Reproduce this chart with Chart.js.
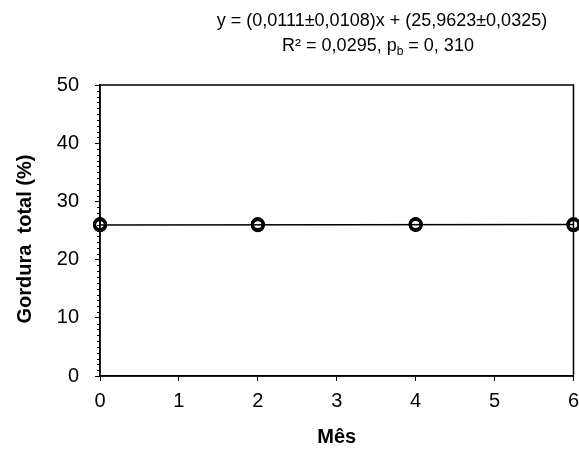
<!DOCTYPE html>
<html>
<head>
<meta charset="utf-8">
<script src="https://cdn.jsdelivr.net/npm/chart.js@4"></script>
<style>
  html, body { margin: 0; padding: 0; background: #fff; overflow: hidden; }
  #wrap { width: 582px; height: 450px; }
</style>
</head>
<body>
<div id="wrap"><canvas id="chart"></canvas></div>
<script>
// Sample data
const months = [0, 0, 0, 2, 2, 2, 4, 4, 4, 6, 6, 6];
const fat = [25.9, 26.0, 26.1, 25.9, 26.0, 26.1, 25.95, 26.05, 26.1, 25.9, 26.0, 26.1];
const fitX = [0, 6];
const fitY = [25.96, 26.03];
const xTicks = [0, 1, 2, 3, 4, 5, 6];
const yTicks = [0, 10, 20, 30, 40, 50];

const font = "'Liberation Sans', Arial, sans-serif";

// box round the plot, minor ticks on y, equation and axis titles
const framePlugin = {
    id: 'frame',
    afterDraw(chart) {
        const ctx = chart.ctx;
        const a = chart.chartArea;
        const y = chart.scales.y;
        ctx.save();
        ctx.strokeStyle = '#000';
        ctx.lineWidth = 1.5;
        ctx.strokeRect(a.left, a.top, a.right - a.left, a.bottom - a.top);
        ctx.lineWidth = 1;
        for (let v = 0; v <= 50; v++) {
            if (v % 10 === 0) continue;
            const py = Math.round(y.getPixelForValue(v)) + 0.5;
            ctx.beginPath();
            ctx.moveTo(a.left - 3, py);
            ctx.lineTo(a.left, py);
            ctx.stroke();
        }

        // equation text
        ctx.fillStyle = '#000';
        ctx.textAlign = 'center';
        ctx.textBaseline = 'alphabetic';
        ctx.font = '18px ' + font;
        ctx.fillText('y = (0,0111±0,0108)x + (25,9623±0,0325)', 382, 26);
        const p1 = 'R² = 0,0295, p';
        const p2 = ' = 0, 310';
        const w1 = ctx.measureText(p1).width;
        const w3 = ctx.measureText(p2).width;
        ctx.font = '12px ' + font;
        const w2 = ctx.measureText('b').width;
        const x0 = 378 - (w1 + w2 + w3) / 2;
        ctx.textAlign = 'left';
        ctx.font = '18px ' + font;
        ctx.fillText(p1, x0, 51);
        ctx.font = '12px ' + font;
        ctx.fillText('b', x0 + w1, 55);
        ctx.font = '18px ' + font;
        ctx.fillText(p2, x0 + w1 + w2, 51);

        // axis titles
        ctx.font = 'bold 20px ' + font;
        ctx.textAlign = 'center';
        ctx.fillText('Mês', (a.left + a.right) / 2, 443);
        ctx.translate(31, 239);
        ctx.rotate(-Math.PI / 2);
        ctx.fillText('Gordura  total (%)', 0, 0);
        ctx.restore();
    }
};

new Chart(document.getElementById('chart'), {
    type: 'scatter',
    data: {
        datasets: [{
            data: months.map((m, i) => ({ x: m, y: fat[i] })),
            pointStyle: 'circle',
            pointRadius: 5.5,
            borderWidth: 3,
            borderColor: '#000',
            backgroundColor: 'rgba(255,255,255,0)',
            clip: false,
            order: 1
        }, {
            data: fitX.map((x, i) => ({ x: x, y: fitY[i] })),
            showLine: true,
            pointRadius: 0,
            borderColor: '#000',
            borderWidth: 1.5,
            order: 2
        }]
    },
    options: {
        responsive: true,
        maintainAspectRatio: false,
        animation: false,
        layout: { padding: { top: 85, right: 0, left: 0, bottom: 0 } },
        plugins: { legend: { display: false }, tooltip: { enabled: false } },
        scales: {
            x: {
                type: 'linear',
                min: 0,
                max: 6,
                afterBuildTicks(s) { s.ticks = xTicks.map(v => ({ value: v })); },
                afterFit(s) { s.height = 74; s.paddingLeft = 0; s.paddingRight = 0; },
                grid: { drawOnChartArea: false, color: '#000', tickLength: 5, lineWidth: 1 },
                border: { color: '#000', width: 1.5 },
                ticks: { color: '#000', font: { family: font, size: 20 }, padding: 8 },
                title: { display: false }
            },
            y: {
                min: 0,
                max: 50,
                afterBuildTicks(s) { s.ticks = yTicks.map(v => ({ value: v })); },
                afterFit(s) { s.width = 100; s.paddingTop = 0; s.paddingBottom = 0; },
                grid: { drawOnChartArea: false, color: '#000', tickLength: 5, lineWidth: 1 },
                border: { color: '#000', width: 1.5 },
                ticks: { color: '#000', font: { family: font, size: 20 }, padding: 16 },
                title: { display: false }
            }
        }
    },
    plugins: [framePlugin]
});
</script>
</body>
</html>
